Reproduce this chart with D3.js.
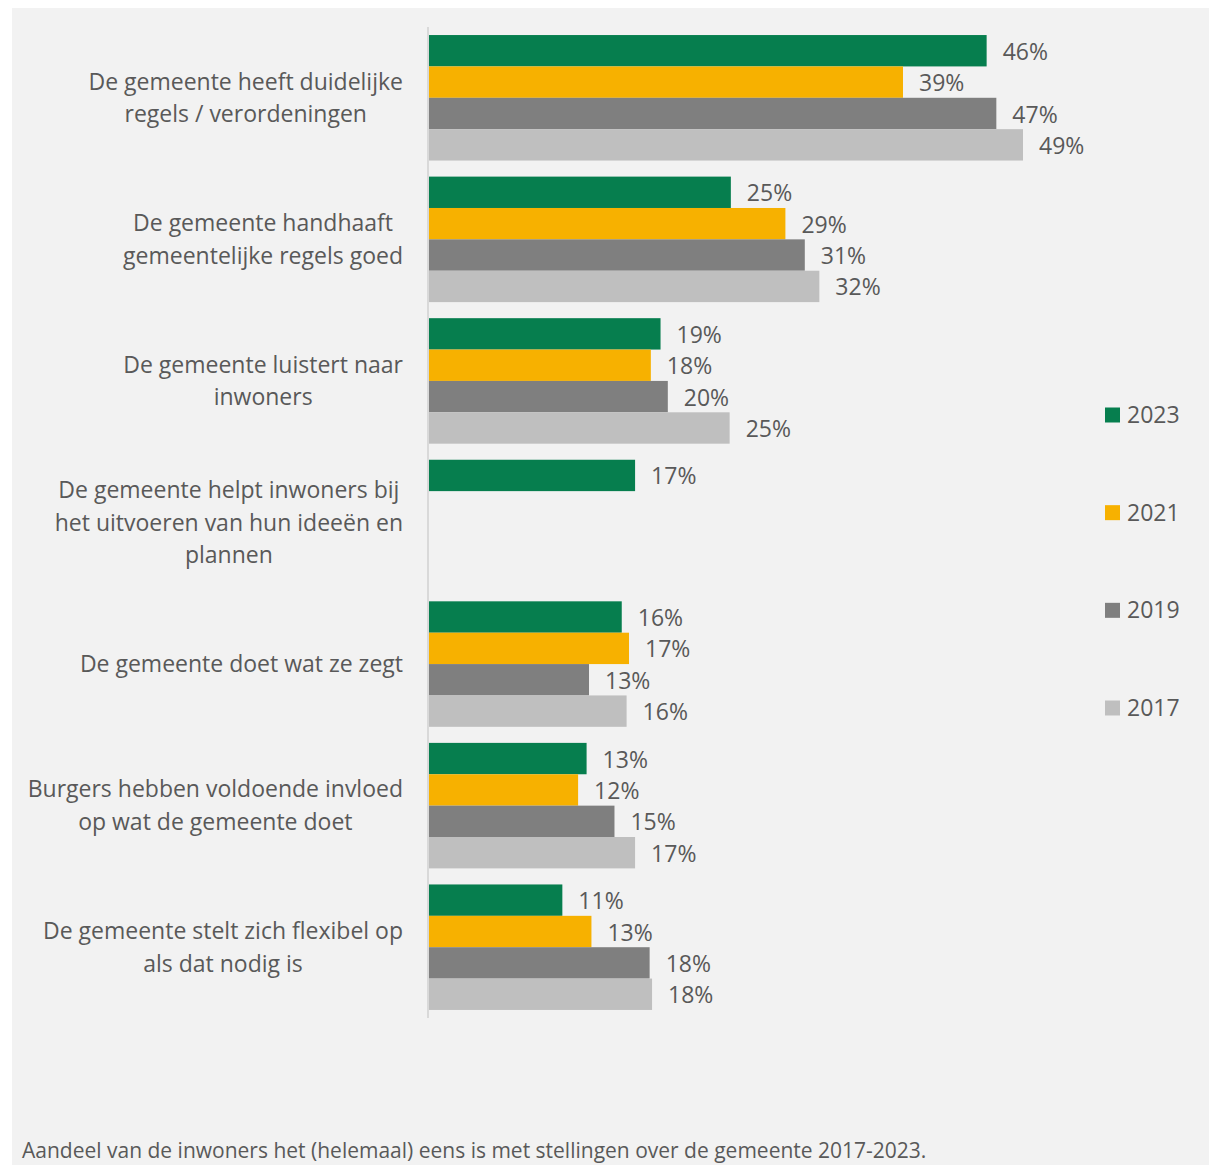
<!DOCTYPE html>
<html>
<head>
<meta charset="utf-8">
<script src="https://cdn.jsdelivr.net/npm/d3@7"></script>
<style>
  html, body { margin: 0; padding: 0; background: #ffffff; }
  svg { display: block; }
  text { font-family: "Open Sans", "Noto Sans", sans-serif; fill: #595959; }
</style>
</head>
<body>
<svg id="chart" width="1209" height="1165"></svg>
<script>
// ---- data ----
const categories = [
  ["De gemeente heeft duidelijke", "regels / verordeningen"],
  ["De gemeente handhaaft", "gemeentelijke regels goed"],
  ["De gemeente luistert naar", "inwoners"],
  ["De gemeente helpt inwoners bij", "het uitvoeren van hun ideeën en", "plannen"],
  ["De gemeente doet wat ze zegt"],
  ["Burgers hebben voldoende invloed", "op wat de gemeente doet"],
  ["De gemeente stelt zich flexibel op", "als dat nodig is"]
];
const seriesNames = ["2023", "2021", "2019", "2017"];
// bar values (percent); labels show them rounded
const values2023 = [46.0, 24.9, 19.1, 17.0, 15.9, 13.0, 11.0];
const values2021 = [39.1, 29.4, 18.3, null, 16.5, 12.3, 13.4];
const values2019 = [46.8, 31.0, 19.7, null, 13.2, 15.3, 18.2];
const values2017 = [49.0, 32.2, 24.8, null, 16.3, 17.0, 18.4];
const seriesColors = ["#067E4E", "#F7B100", "#7F7F7F", "#BFBFBF"];
const caption = "Aandeel van de inwoners het (helemaal) eens is met stellingen over de gemeente 2017-2023.";

const seriesValues = [values2023, values2021, values2019, values2017];

const svg = d3.select("#chart");
const W = 1209, H = 1165;

// panel background
svg.append("rect").attr("x", 12).attr("y", 8).attr("width", W - 12).attr("height", H - 8).attr("fill", "#F2F2F2");

const x0 = 429;
const x = d3.scaleLinear().domain([0, 49]).range([x0, 1023]);
const y = d3.scaleBand().domain(d3.range(categories.length)).range([27, 1018]).paddingInner(0.1135).paddingOuter(0.0568);
const ySub = d3.scaleBand().domain(d3.range(seriesNames.length)).range([0, y.bandwidth()]);

const FS = 23;
const fmt = v => Math.round(v) + "%";

// bars
categories.forEach((cat, ci) => {
  const g = svg.append("g").attr("transform", `translate(0,${y(ci)})`);
  seriesValues.forEach((vals, si) => {
    const v = vals[ci];
    if (v == null) return;
    g.append("rect")
      .attr("x", x(0))
      .attr("y", ySub(si))
      .attr("width", x(v) - x(0))
      .attr("height", ySub.bandwidth())
      .attr("fill", seriesColors[si]);
    g.append("text")
      .attr("x", x(v) + 16)
      .attr("y", ySub(si) + ySub.bandwidth() / 2 + 1)
      .attr("dy", "0.35em")
      .attr("font-size", FS)
      .text(fmt(v));
  });
});

// axis line
svg.append("line").attr("x1", 428).attr("x2", 428).attr("y1", 27).attr("y2", 1018)
  .attr("stroke", "#D9D9D9").attr("stroke-width", 2);

// category labels (centered block, right edge at 403)
const lineH = 32.5;
categories.forEach((lines, ci) => {
  const cy = y(ci) + y.bandwidth() / 2;
  const g = svg.append("g");
  const texts = lines.map((ln, li) => g.append("text")
    .attr("y", cy + (li - (lines.length - 1) / 2) * lineH)
    .attr("dy", "0.35em")
    .attr("font-size", FS)
    .attr("text-anchor", "middle")
    .text(ln));
  const maxW = d3.max(texts, t => t.node().getComputedTextLength());
  texts.forEach(t => t.attr("x", 403 - maxW / 2));
});

// legend
const legY = d3.scalePoint().domain(seriesNames).range([415, 708]);
seriesNames.forEach((name, si) => {
  svg.append("rect").attr("x", 1105).attr("y", legY(name) - 7.5).attr("width", 15).attr("height", 15).attr("fill", seriesColors[si]);
  svg.append("text").attr("x", 1127).attr("y", legY(name)).attr("dy", "0.35em").attr("font-size", FS).text(name);
});

// caption
svg.append("text").attr("x", 22).attr("y", 1151).attr("dy", "0.35em").attr("font-size", 21).text(caption);
</script>
</body>
</html>
